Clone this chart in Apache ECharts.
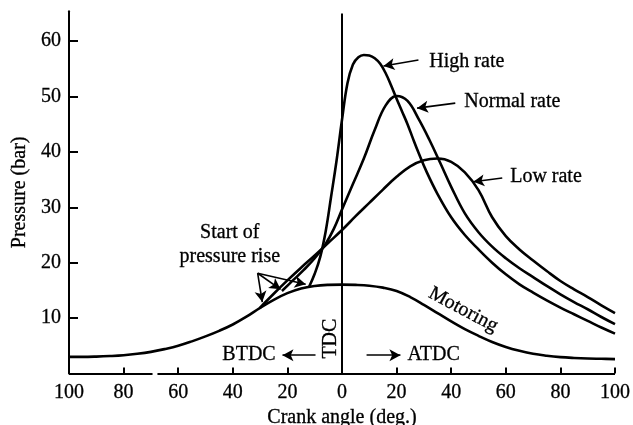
<!DOCTYPE html>
<html>
<head>
<meta charset="utf-8">
<script src="https://cdn.jsdelivr.net/npm/echarts@6/dist/echarts.min.js"></script>
<style>
html,body{margin:0;padding:0;background:#fff;}
#chart{width:633px;height:425px;}
</style>
</head>
<body>
<div id="chart"></div>
<script>
// Crank angle (deg., negative = BTDC) and pressure (bar)
const motoringAngle = [-100,-95,-90,-85,-80,-75,-70,-65,-60,-55,-50,-45,-40,-35,-30,-25,-20,-15,-10,-5,0,5,10,15,20,25,30,35,40,45,50,55,60,65,70,75,80,85,90,95,100];
const motoringPressure = [3.0,3.0,3.05,3.15,3.3,3.55,3.9,4.4,5.0,5.8,6.7,7.7,8.85,10.25,11.85,13.3,14.5,15.35,15.8,16.0,16.05,16.0,15.85,15.5,14.9,13.8,12.4,10.9,9.4,8.0,6.8,5.7,4.8,4.1,3.55,3.2,2.95,2.8,2.7,2.65,2.6];

const lowAngle = [-30,-25,-20,-15,-10,-5,0,5,10,15,20,25,30,35,40,45,50,55,60,65,70,75,80,85,90,95,100];
const lowPressure = [11.9,14.4,16.8,19.1,21.3,23.6,25.9,28.4,30.8,33.2,35.5,37.4,38.5,38.8,38.2,36.3,33.1,28.2,24.8,22.4,20.4,18.5,16.7,15.2,13.8,12.3,10.9];

const normalAngle = [-22,-18,-14,-10,-6,-3,0,4,8,12,16,20,24,28,32,36,40,45,50,55,60,65,70,75,80,85,90,95,100];
const normalPressure = [14.9,16.8,18.7,20.8,23.4,26.1,29.6,34.2,38.8,44.0,48.4,50.1,49.2,46.0,42.2,38.0,33.7,28.9,25.5,22.9,20.8,19.0,17.4,15.8,14.3,12.9,11.6,10.2,8.9];

const highAngle = [-12,-10,-8,-6,-4,-2,0,2,4,6,8,10,12,14,16,18,20,22,24,26,28,31,35,40,45,50,55,60,65,70,75,80,85,90,95,100];
const highPressure = [15.7,18.0,21.0,25.6,31.9,38.4,45.8,52.4,55.8,57.1,57.5,57.4,56.9,55.9,54.2,52.0,49.6,47.3,45.0,42.4,39.9,36.4,32.4,28.2,25.0,22.4,20.0,17.9,16.1,14.6,13.2,11.9,10.7,9.5,8.3,7.2];

const xTicks = [-100,-80,-60,-40,-20,0,20,40,60,80,100];
const yTicks = [10,20,30,40,50,60];

const zip = (a, b) => a.map((v, i) => [v, b[i]]);
const FONT = 'Liberation Serif';
const INK = '#000';
const FS = 20;
const textBase = {fontFamily: FONT, fontSize: FS, color: INK, textBorderColor: INK, textBorderWidth: 0.3};

const chart = echarts.init(document.getElementById('chart'), null, {renderer: 'canvas'});

const curve = (name, data) => ({
  name, type: 'line', data, smooth: 0.4, showSymbol: false, symbol: 'none',
  lineStyle: {color: INK, width: 2.6}, z: 3, silent: true
});

const txt = (name, coord, position, extra) => ({
  name, coord, symbol: 'circle', symbolSize: 0,
  label: Object.assign({show: true, formatter: '{b}', position, distance: 0}, textBase, extra || {})
});

const arrow = (from, to) => [{coord: from}, {coord: to}];

const option = {
  animation: false,
  backgroundColor: '#fff',
  grid: {left: 69, right: 18, top: 11.2, bottom: 51.5, containLabel: false, outerBoundsMode: 'none'},
  xAxis: {
    type: 'value', min: -100, max: 100, interval: 20,
    name: 'Crank angle (deg.)', nameLocation: 'middle', nameGap: 28,
    nameTextStyle: Object.assign({}, textBase, {lineHeight: 20}),
    axisLine: {show: false, onZero: false},
    axisTick: {show: true, inside: true, length: 6, customValues: xTicks, lineStyle: {color: INK, width: 2}},
    axisLabel: Object.assign({margin: 9, customValues: xTicks,
      formatter: v => String(Math.abs(v))}, textBase),
    splitLine: {show: false}
  },
  yAxis: {
    type: 'value', min: 0, max: 65.4, interval: 10,
    name: 'Pressure (bar)', nameLocation: 'middle', nameGap: 38, nameRotate: 90,
    nameTextStyle: textBase,
    axisLine: {show: true, onZero: false, lineStyle: {color: INK, width: 2}},
    axisTick: {show: true, inside: true, length: 9, customValues: yTicks, lineStyle: {color: INK, width: 2}},
    axisLabel: Object.assign({margin: 8, customValues: yTicks, formatter: v => String(v)}, textBase),
    splitLine: {show: false}
  },
  series: [
    Object.assign(curve('Motoring', zip(motoringAngle, motoringPressure)), {
      clip: false,
      markLine: {
        silent: true, symbol: ['none', 'arrow'], symbolSize: [9, 11],
        label: {show: false},
        lineStyle: {color: INK, width: 1.6, type: 'solid'},
        emphasis: {disabled: true},
        data: [
          arrow([28, 56.6], [15.2, 55.5]),
          arrow([41.5, 48.8], [27.5, 47.9]),
          arrow([58.7, 35.3], [48.1, 34.6]),
          arrow([-9.7, 3.3], [-21.8, 3.3]),
          arrow([9, 3.3], [21.4, 3.3]),
          arrow([-30.9, 18.1], [-29.2, 12.9]),
          arrow([-30.9, 18.1], [-22.5, 15.2]),
          arrow([-30.9, 18.1], [-13.3, 16.1]),
          [{coord: [0, 0], symbol: 'none', lineStyle: {width: 2}}, {coord: [0, 65], symbol: 'none'}],
          [{coord: [-100, 0], symbol: 'none', lineStyle: {width: 2.2}}, {coord: [-69.4, 0], symbol: 'none'}],
          [{coord: [-67.6, 0], symbol: 'none', lineStyle: {width: 2.2}}, {coord: [100, 0], symbol: 'none'}]
        ]
      },
      markPoint: {
        silent: true,
        data: [
          txt('High rate', [32, 56.2], 'right'),
          txt('Normal rate', [44.8, 49], 'right'),
          txt('Low rate', [61.6, 35.5], 'right'),
          txt('Motoring', [44.4, 11.5], 'inside', {rotate: -28}),
          txt('TDC', [-4.2, 6.3], 'inside', {rotate: 90}),
          txt('BTDC', [-24.3, 3.3], 'left'),
          txt('ATDC', [24, 3.3], 'right'),
          txt('Start of', [-41.1, 25.4], 'inside'),
          txt('pressure rise', [-41.1, 21], 'inside')
        ]
      }
    }),
    curve('Low rate', zip(lowAngle, lowPressure)),
    curve('Normal rate', zip(normalAngle, normalPressure)),
    curve('High rate', zip(highAngle, highPressure))
  ]
};
chart.setOption(option);
</script>
</body>
</html>
